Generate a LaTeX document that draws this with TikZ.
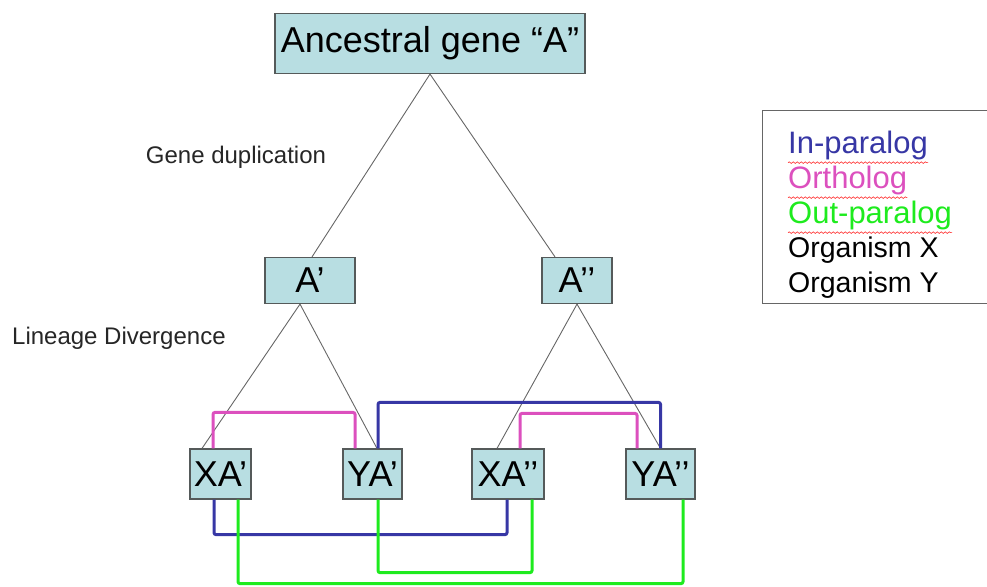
\documentclass[tikz,border=0pt]{standalone}
\usepackage{fontspec}
\setmainfont{Liberation Sans}
\usetikzlibrary{calc,decorations.pathmorphing}
\definecolor{boxfill}{RGB}{184,222,226}
\definecolor{boxline}{RGB}{85,90,90}
\definecolor{inpara}{RGB}{55,55,165}
\definecolor{ortho}{RGB}{220,80,190}
\definecolor{outpara}{RGB}{30,235,30}
\tikzset{
  genebox/.style={draw=boxline, line width=1.2pt, fill=boxfill, inner sep=0pt,
    font=\fontsize{36}{40}\selectfont},
  tree/.style={draw=black!60, line width=0.9pt},
  inline/.style={draw=inpara, line width=3pt, rounded corners=2pt},
  orthline/.style={draw=ortho, line width=3pt, rounded corners=2pt},
  outline/.style={draw=outpara, line width=3pt, rounded corners=2pt},
  steplabel/.style={font=\fontsize{24}{27}\selectfont, text=black!85},
  legtext/.style={anchor=west, inner sep=0pt, font=\fontsize{31}{34}\selectfont},
  legblack/.style={anchor=west, inner sep=0pt, font=\fontsize{28.5}{32}\selectfont},
  squig/.style={draw=red!85, line width=0.6pt, decorate,
    decoration={snake, amplitude=0.8pt, segment length=4pt}}
}
\begin{document}
\begin{tikzpicture}[x=1pt,y=-1pt]
\useasboundingbox (0,0) rectangle (987,586);
% gene boxes
\node[genebox, minimum width=310, minimum height=60] (top) at (430,43.5) {Ancestral gene “A”};
\node[genebox, minimum width=90, minimum height=46] (ap) at (310,280.5) {A’};
\node[genebox, minimum width=70, minimum height=46] (app) at (577,280.5) {A’’};
\node[genebox, minimum width=61, minimum height=50] (xa1) at (220.5,474) {XA’};
\node[genebox, minimum width=59, minimum height=50] (ya1) at (372.5,474) {YA’};
\node[genebox, minimum width=72, minimum height=50] (xa2) at (508,474) {XA’’};
\node[genebox, minimum width=69, minimum height=50] (ya2) at (660.5,474) {YA’’};
% step labels
\node[steplabel] (dup) at (236,157) {Gene duplication};
\node[steplabel, anchor=west, inner sep=0pt] (div) at (12,338) {Lineage Divergence};
% tree lines
\draw[tree] (top.south) -- ($(ap.north)+(2,0)$);
\draw[tree] (top.south) -- ($(app.north)+(-22,0)$);
\draw[tree] ($(ap.south)+(-10,0)$) -- ($(xa1.north)+(-18.5,0)$);
\draw[tree] ($(ap.south)+(-10,0)$) -- ($(ya1.north)+(4.5,0)$);
\draw[tree] (app.south) -- ($(xa2.north)+(-11,0)$);
\draw[tree] (app.south) -- (ya2.north);
% relation connectors
\draw[orthline] ($(xa1.north)+(-7.5,0)$) -- ++(0,-36) -| ($(ya1.north)+(-17.5,0)$);
\draw[inline] ($(ya1.north)+(5.5,0)$) -- ++(0,-46) -| (ya2.north);
\draw[orthline] ($(xa2.north)+(12,0)$) -- ++(0,-35) -| ($(ya2.north)+(-23.5,0)$);
\draw[inline] ($(xa1.south)+(-6.5,0)$) -- ++(0,35) -| ($(xa2.south)+(-1,0)$);
\draw[outline] ($(xa1.south)+(17.5,0)$) -- ++(0,84) -| ($(ya2.south)+(22.5,0)$);
\draw[outline] ($(ya1.south)+(5.5,0)$) -- ++(0,73) -| ($(xa2.south)+(24,0)$);
% legend
\node[draw=black!60, line width=1.2pt, minimum width=226, minimum height=193, inner sep=0pt, anchor=north west] (legend) at (762,110) {};
\node[legtext, text=inpara] (l1) at (788,145) {In-paralog};
\node[legtext, text=ortho] (l2) at (788,180) {Ortholog};
\node[legtext, text=outpara] (l3) at (788,215) {Out-paralog};
\node[legblack] (l4) at (788,250) {Organism X};
\node[legblack] (l5) at (788,285) {Organism Y};
\draw[squig] ($(l1.south west)+(0,3)$) -- ($(l1.south east)+(0,3)$);
\draw[squig] ($(l2.south west)+(0,3)$) -- ($(l2.south east)+(0,3)$);
\draw[squig] ($(l3.south west)+(0,3)$) -- ($(l3.south east)+(0,3)$);
\end{tikzpicture}
\end{document}
